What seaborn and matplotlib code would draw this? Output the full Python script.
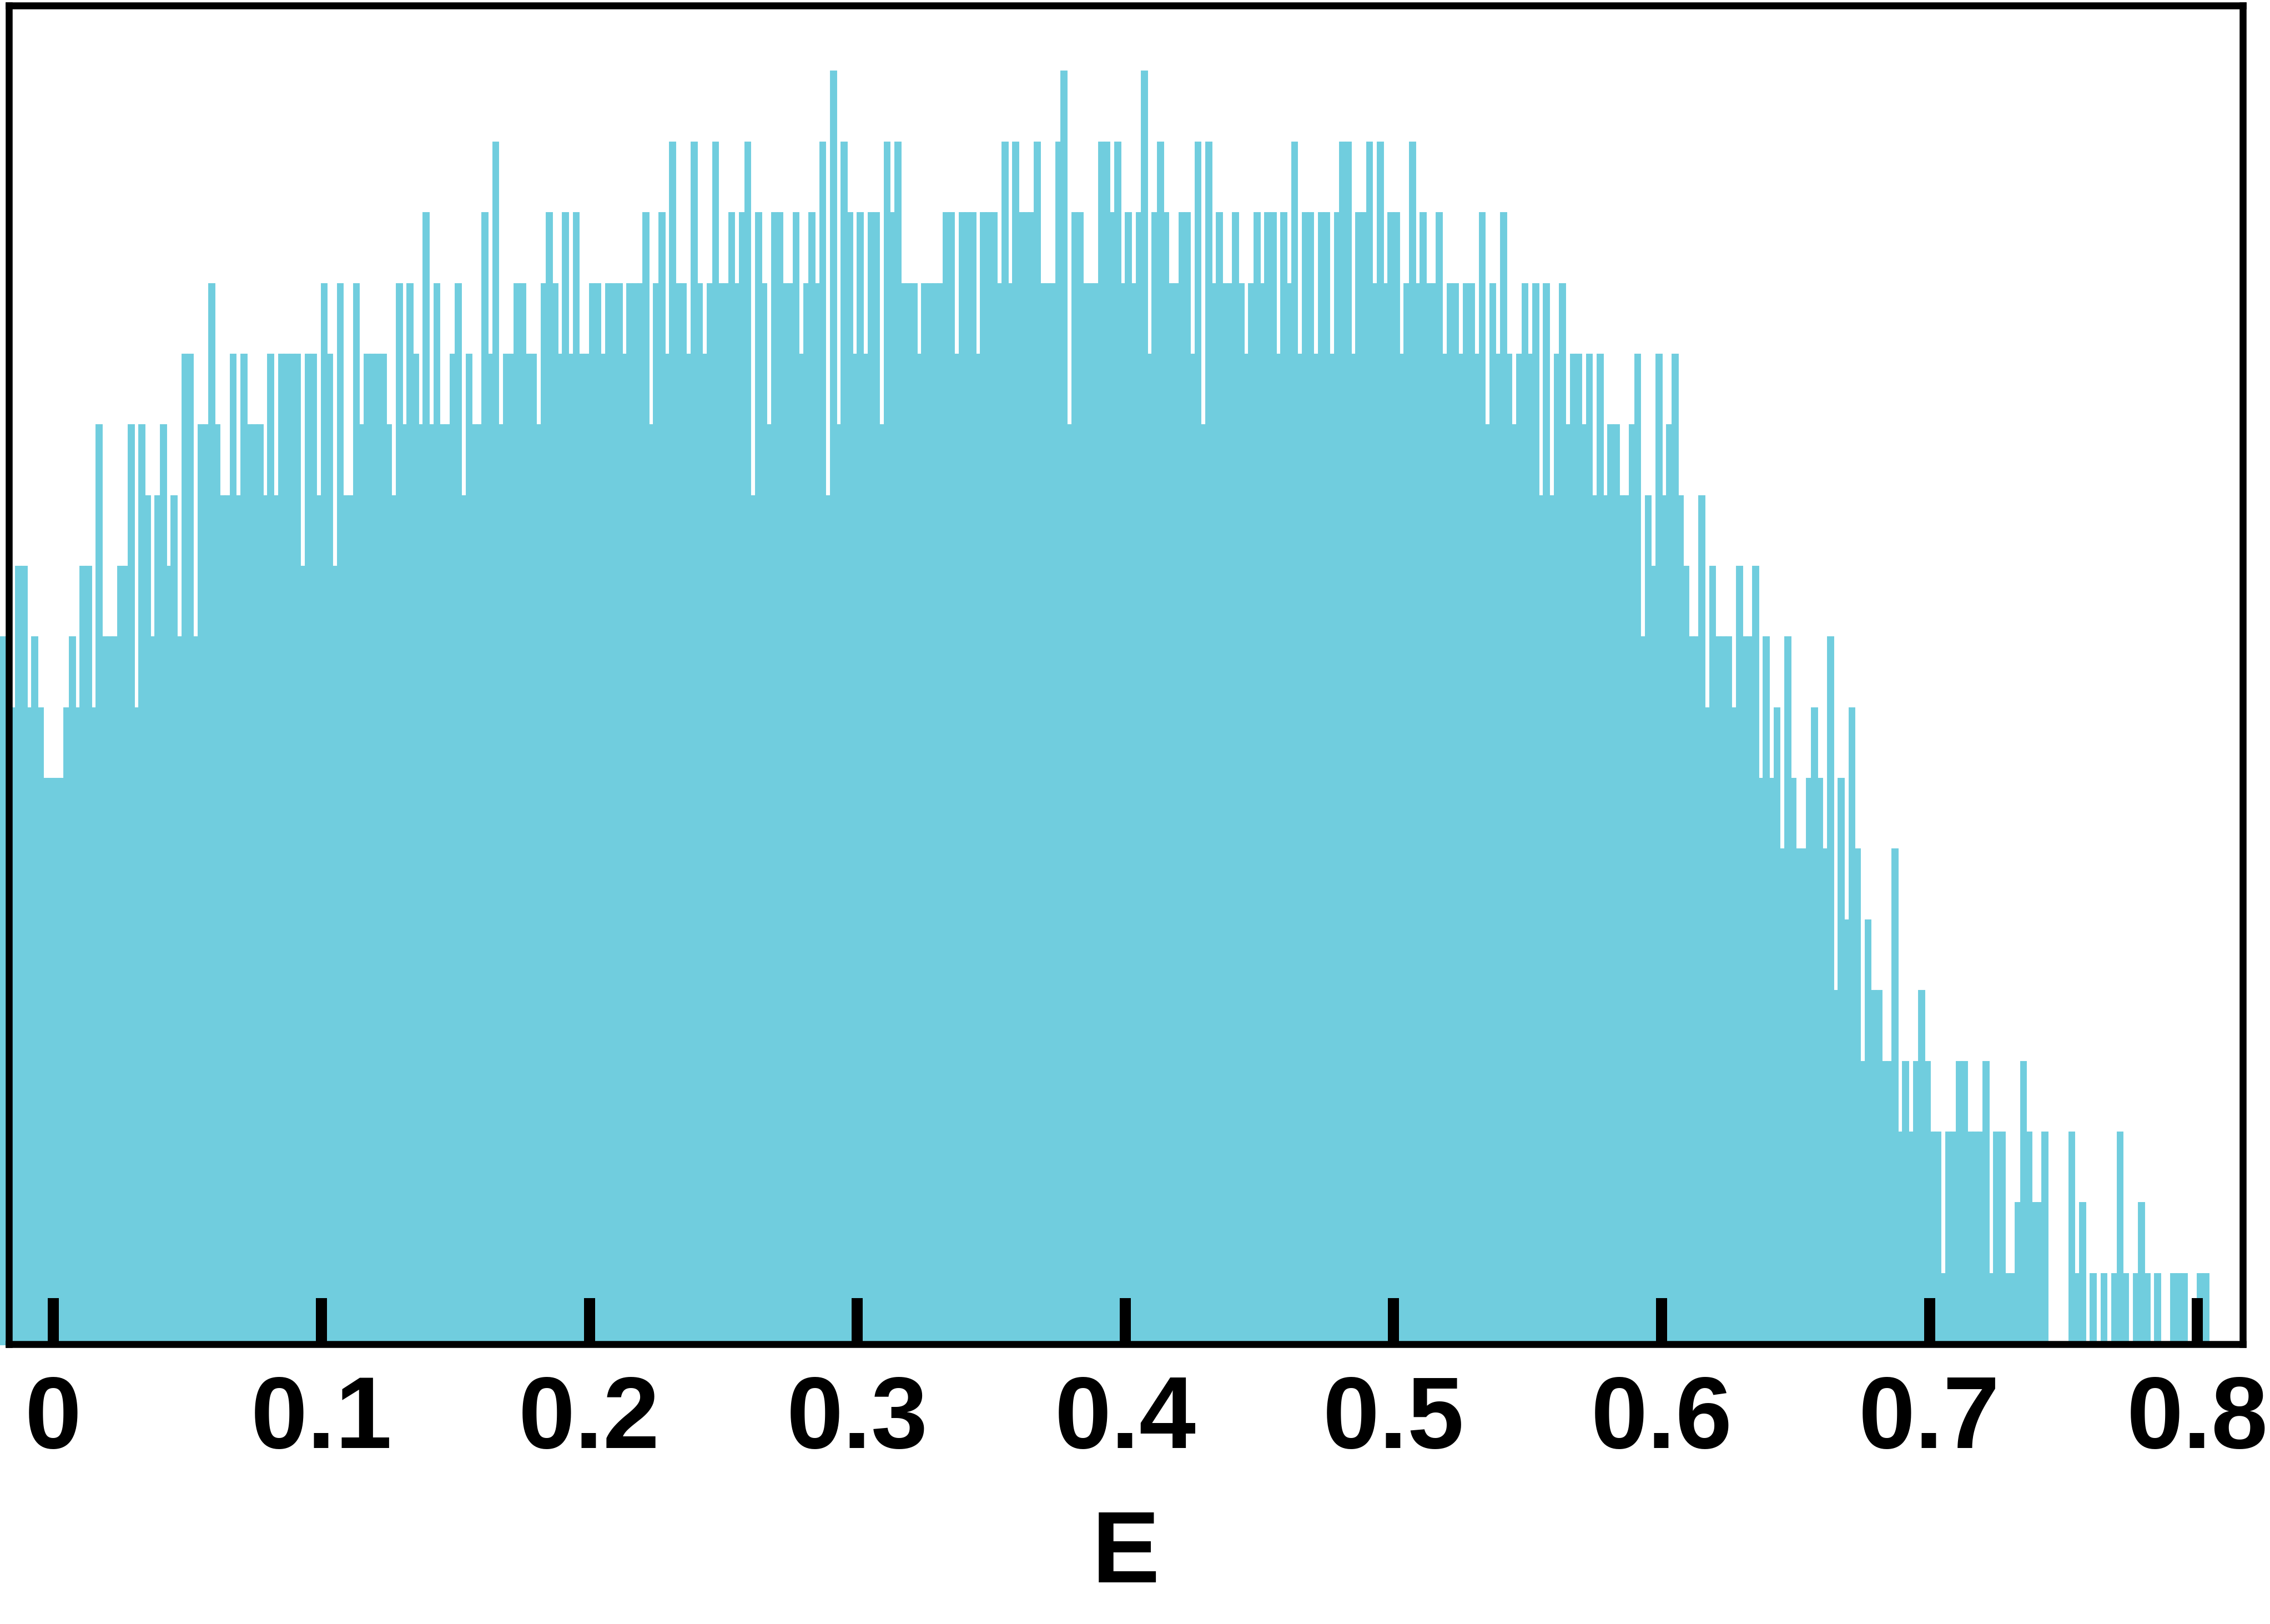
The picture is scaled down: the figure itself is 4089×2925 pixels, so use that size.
import numpy as np
import pandas as pd
import matplotlib
matplotlib.use("Agg")
import matplotlib.pyplot as plt
import seaborn as sns

# ---- data ----
bin_start = -0.020
bin_width = 0.002
counts = [
    10, 10, 9, 11, 11, 9, 10, 9, 8, 8,          # -0.020 .. -0.002
    8, 8, 9, 10, 9, 11, 11, 9, 13, 10,          # 0.000 ..
    10, 10, 11, 11, 13, 9, 13, 12, 10, 12,
    13, 11, 12, 10, 14, 14, 10, 13, 13, 15,
    13, 12, 12, 14, 12, 14, 13, 13, 13, 12,
    14, 12, 14, 14, 14, 14, 11, 14, 14, 12,
    15, 14, 11, 15, 12, 12, 15, 13, 14, 14,     # 0.100 ..
    14, 14, 13, 12, 15, 13, 15, 14, 13, 16,
    13, 15, 13, 13, 14, 15, 12, 14, 13, 13,
    16, 14, 17, 13, 14, 14, 15, 15, 14, 14,
    13, 15, 16, 15, 14, 16, 14, 16, 14, 14,
    15, 15, 14, 15, 15, 15, 14, 15, 15, 15,     # 0.200 ..
    16, 13, 15, 16, 14, 17, 15, 15, 14, 17,
    15, 14, 15, 17, 15, 15, 16, 15, 16, 17,
    12, 16, 15, 13, 16, 16, 15, 15, 16, 14,
    15, 16, 15, 17, 12, 18, 13, 17, 16, 14,
    16, 14, 16, 16, 13, 17, 16, 17, 15, 15,     # 0.300 ..
    15, 14, 15, 15, 15, 15, 16, 16, 14, 16,
    16, 16, 14, 16, 16, 16, 15, 17, 15, 17,
    16, 16, 16, 17, 15, 15, 15, 17, 18, 13,
    16, 16, 15, 15, 15, 17, 17, 16, 17, 15,
    16, 15, 16, 18, 14, 16, 17, 16, 15, 15,     # 0.400 ..
    16, 16, 14, 17, 13, 17, 15, 16, 15, 15,
    16, 15, 14, 15, 16, 15, 16, 16, 14, 16,
    15, 17, 14, 16, 16, 14, 16, 16, 14, 16,
    17, 17, 14, 16, 16, 17, 15, 17, 15, 16,
    16, 14, 15, 17, 15, 16, 15, 15, 16, 14,     # 0.500 ..
    15, 15, 14, 15, 15, 14, 16, 13, 15, 14,
    16, 14, 13, 14, 15, 14, 15, 12, 15, 12,
    14, 15, 13, 14, 14, 13, 14, 12, 14, 12,
    13, 13, 12, 12, 13, 14, 10, 12, 11, 14,
    12, 13, 14, 12, 11, 10, 10, 12, 9, 11,      # 0.600 ..
    10, 10, 10, 9, 11, 10, 10, 11, 8, 10,
    8, 9, 7, 10, 8, 7, 7, 8, 9, 8,
    7, 10, 5, 8, 6, 9, 7, 4, 6, 5,
    5, 4, 4, 7, 3, 4, 3, 4, 5, 4,
    3, 3, 1, 3, 3, 4, 4, 3, 3, 3,               # 0.700 ..
    4, 1, 3, 3, 1, 1, 2, 4, 3, 2,
    2, 3, 0, 0, 0, 0, 3, 1, 2, 0,
    1, 0, 1, 0, 1, 3, 1, 0, 1, 2,
    1, 0, 1, 0, 0, 1, 1, 1, 0, 0,
    1, 1,                                       # 0.800 ..
]
xticks = [0, 0.1, 0.2, 0.3, 0.4, 0.5, 0.6, 0.7, 0.8]
xtick_labels = ["0", "0.1", "0.2", "0.3", "0.4", "0.5", "0.6", "0.7", "0.8"]
x_label = "E"
bar_color = "#70CDDE"

# ---- build ----
sns.set_style("white")
plt.rcParams["font.family"] = ["Liberation Sans", "DejaVu Sans"]
plt.rcParams["font.weight"] = "bold"
plt.rcParams["text.color"] = "black"
plt.rcParams["axes.labelcolor"] = "black"
plt.rcParams["xtick.color"] = "black"
plt.rcParams["xtick.labelcolor"] = "black"
plt.rcParams["axes.axisbelow"] = False

n = len(counts)
edges = np.linspace(bin_start, bin_start + bin_width * n, n + 1)
centers = (edges[:-1] + edges[1:]) / 2
df = pd.DataFrame({"E": centers, "count": counts})

W, H, DPI = 4089, 2925, 300
fig = plt.figure(figsize=(W / DPI, H / DPI), dpi=DPI)
ax_l, ax_r, ax_b, ax_t = 16, 4040, 2421, 10
ax = fig.add_axes([ax_l / W, 1 - ax_b / H, (ax_r - ax_l) / W, (ax_b - ax_t) / H])

sns.histplot(data=df, x="E", weights="count", bins=edges.tolist(), color=bar_color,
             alpha=1, edgecolor=bar_color, linewidth=0.7, ax=ax)
for p in ax.patches:
    p.set_clip_on(False)

ax.set_axisbelow(False)
ax.set_xlim(-0.01657, 0.8169)
ax.set_ylim(0, 18.93)
ax.set_yticks([])
ax.set_ylabel("")
ax.set_xticks(xticks)
ax.set_xticklabels(xtick_labels, fontweight="bold", color="black")
ax.tick_params(axis="x", direction="in", length=20, width=4.8, pad=13,
               labelsize=44, color="black", labelcolor="black",
               top=False, bottom=True)
for s in ax.spines.values():
    s.set_visible(True)
    s.set_linewidth(3.0)
    s.set_color("black")
    s.set_zorder(5)
ax.xaxis.set_zorder(4)
ax.set_xlabel(x_label, fontsize=44, fontweight="bold", labelpad=17, color="black")

fig.savefig("out.png", dpi=DPI)
